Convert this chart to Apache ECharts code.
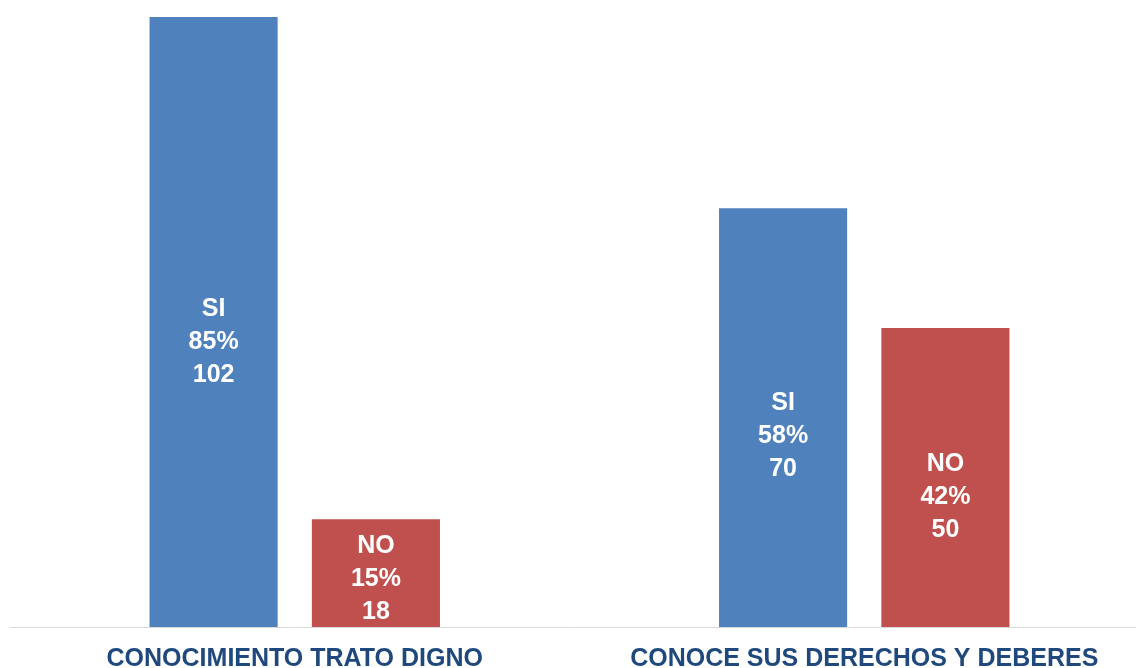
<!DOCTYPE html>
<html lang="es">
<head>
    <meta charset="UTF-8">
    <title>Conocimiento</title>
    <script src="https://cdn.jsdelivr.net/npm/echarts@6/dist/echarts.min.js"></script>
    <style>
        html, body { margin: 0; padding: 0; background: #fff; }
        #chart { width: 1136px; height: 668px; }
    </style>
</head>
<body>
    <div id="chart"></div>
</body>
<script type="text/javascript">
    // data
    const categories = ['CONOCIMIENTO TRATO DIGNO', 'CONOCE SUS DERECHOS Y DEBERES'];
    const siValues = [102, 70];
    const noValues = [18, 50];

    // label nudges (px, vertical) so the text sits like in the original
    const siLabelShift = [20, 18];
    const noLabelShift = [6, 20];

    const chart = echarts.init(document.getElementById('chart'));

    function pct(v, i) {
        let total = siValues[i] + noValues[i];
        return Math.round(v / total * 100) + '%';
    }

    function buildData(values, name, shifts) {
        return values.map(function (v, i) {
            return {
                value: v,
                label: {
                    offset: [0, shifts[i]],
                    formatter: name + '\n' + pct(v, i) + '\n' + v
                }
            };
        });
    }

    const labelStyle = {
        show: true,
        position: 'inside',
        color: '#ffffff',
        fontFamily: 'Liberation Sans, Arial, sans-serif',
        fontWeight: 'bold',
        fontSize: 25,
        lineHeight: 33
    };

    const option = {
        animation: false,
        grid: {
            left: 10,
            top: 17,
            width: 1139,
            bottom: 41,
            outerBoundsMode: 'none',
            containLabel: false
        },
        xAxis: {
            type: 'category',
            data: categories,
            axisLine: { lineStyle: { color: '#D9D9D9', width: 1 } },
            axisTick: { show: false },
            axisLabel: {
                interval: 0,
                margin: 20,
                color: '#1F497D',
                fontFamily: 'Liberation Sans, Arial, sans-serif',
                fontWeight: 'bold',
                fontSize: 25
            }
        },
        yAxis: {
            type: 'value',
            min: 0,
            max: 102,
            show: false,
            splitLine: { show: false }
        },
        series: [
            {
                name: 'SI',
                type: 'bar',
                barGap: '26.7%',
                barCategoryGap: '49%',
                itemStyle: { color: '#4F81BD' },
                label: labelStyle,
                data: buildData(siValues, 'SI', siLabelShift)
            },
            {
                name: 'NO',
                type: 'bar',
                itemStyle: { color: '#C0504D' },
                label: labelStyle,
                data: buildData(noValues, 'NO', noLabelShift)
            }
        ]
    };

    chart.setOption(option);
</script>
</html>
